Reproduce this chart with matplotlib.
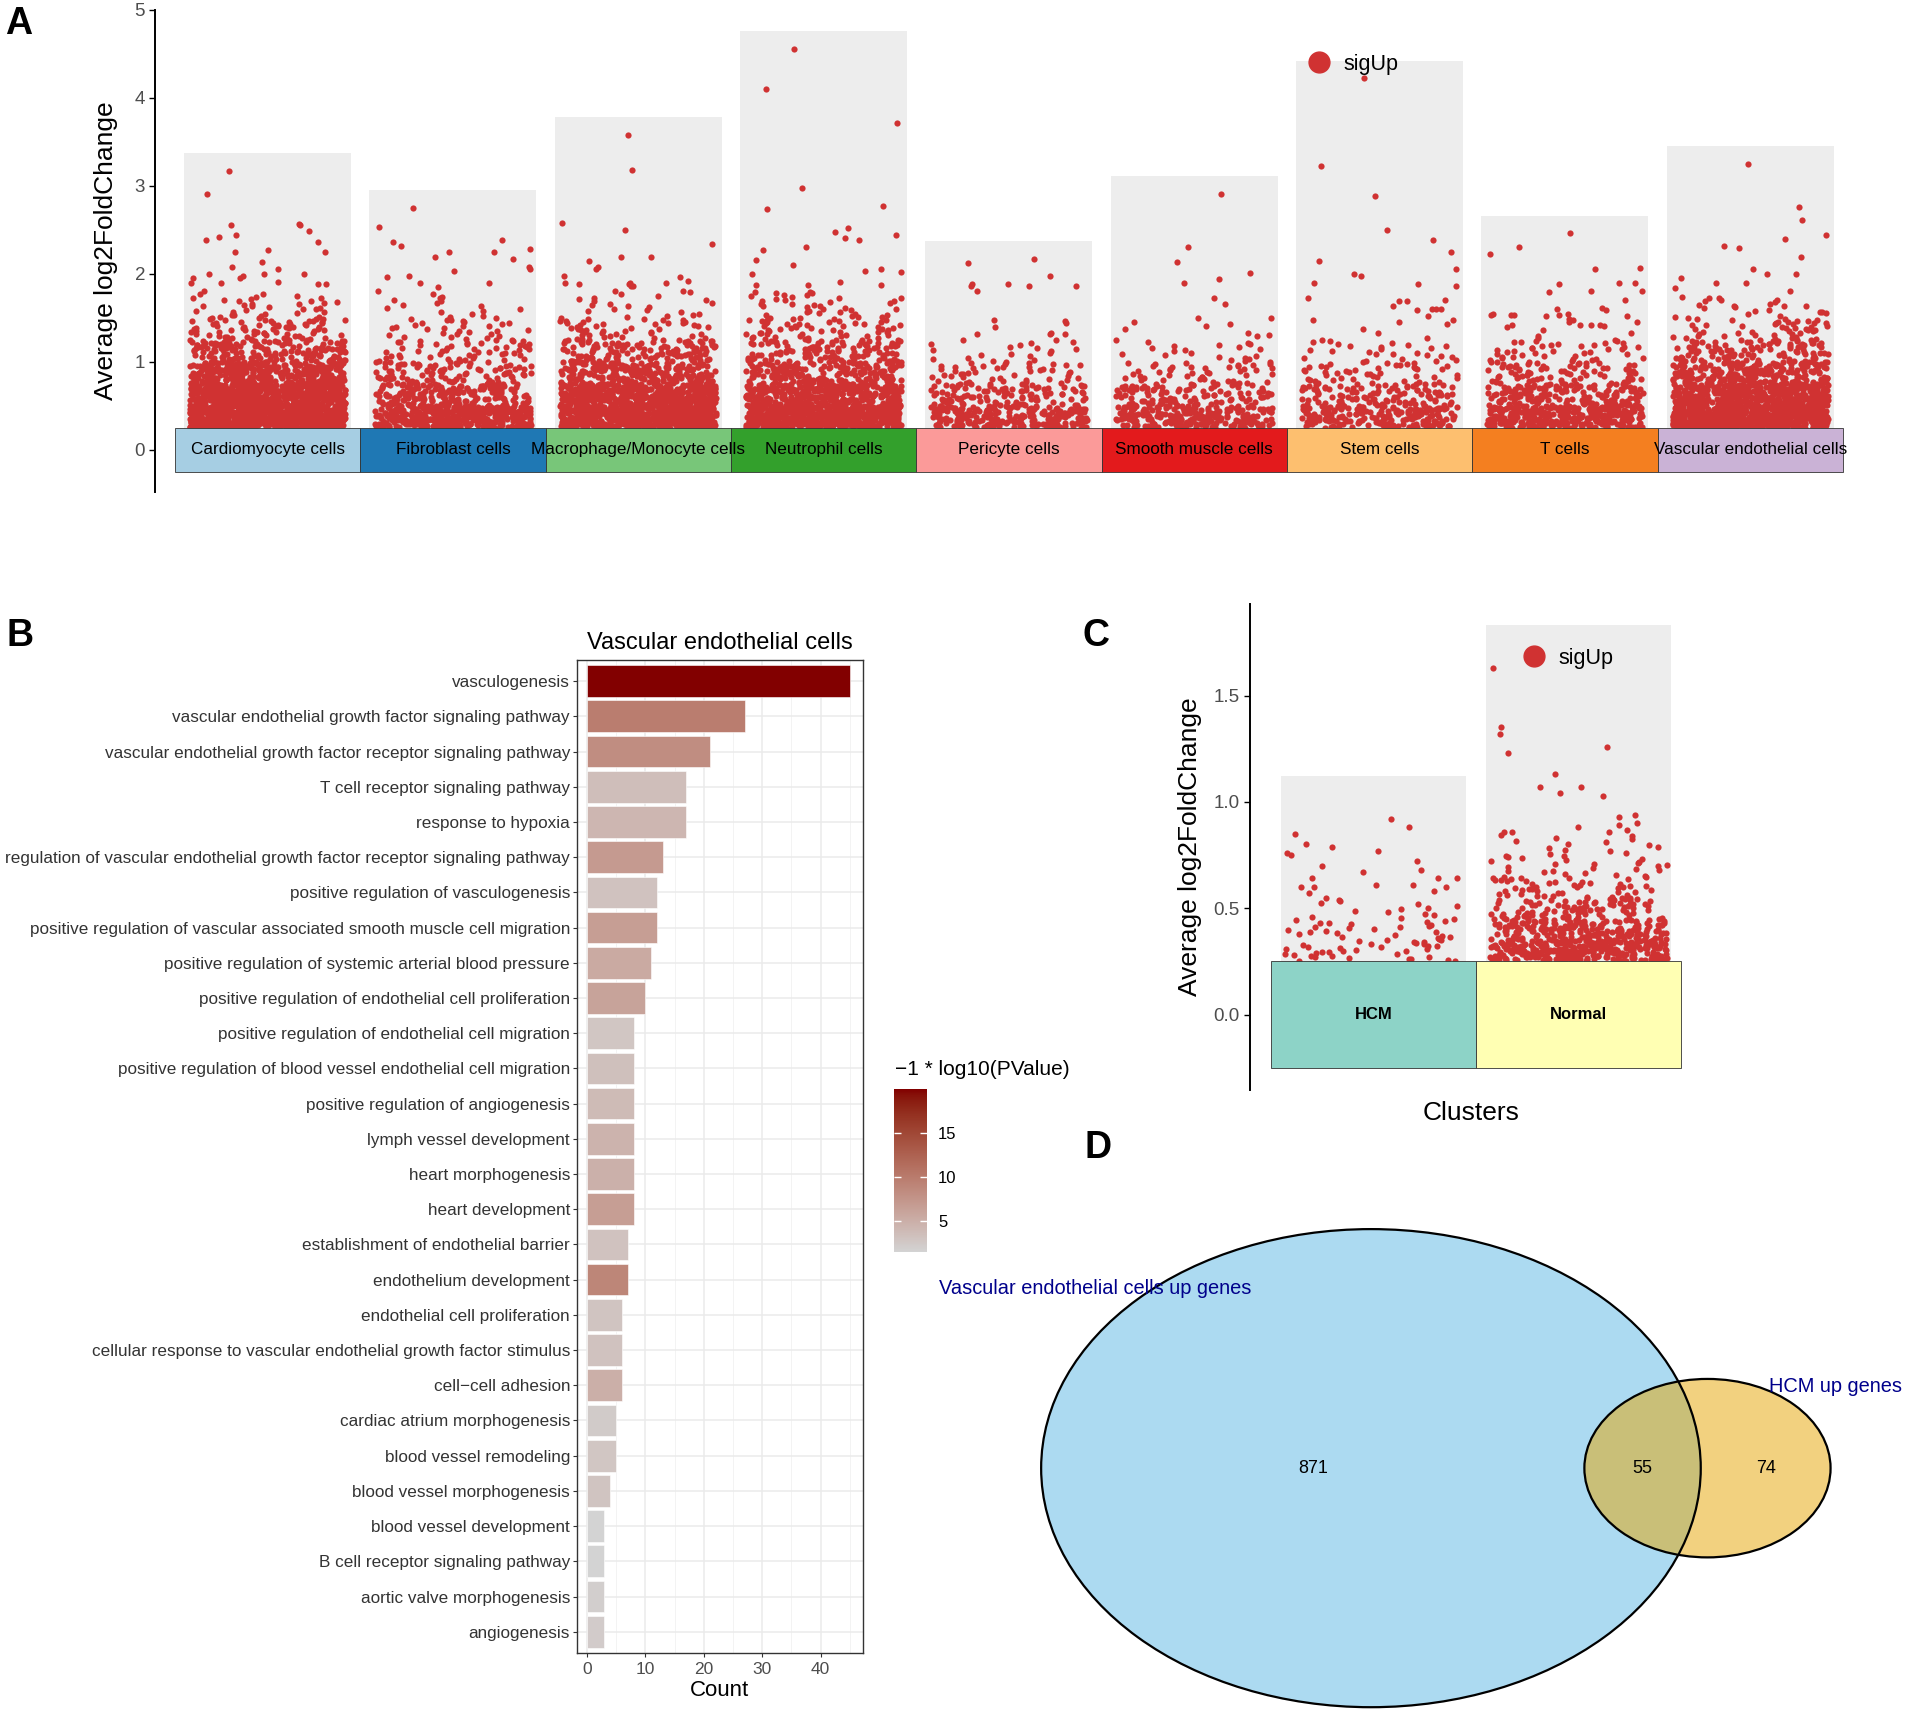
"""
Multi-panel figure: cluster up-gene scatter (A), GO enrichment bars (B),
HCM vs Normal scatter (C) and Venn overlap (D).
"""

import numpy as np
import matplotlib
matplotlib.use('Agg')
import matplotlib.pyplot as plt
from matplotlib.patches import Ellipse
from matplotlib.lines import Line2D
from matplotlib.colors import ListedColormap, Normalize, to_rgb
from matplotlib.cm import ScalarMappable
from matplotlib.ticker import MultipleLocator

plt.rcParams['font.family'] = ['Liberation Sans', 'DejaVu Sans']

# ---------------- Panel A data ----------------
a_clusters = ['Cardiomyocyte cells', 'Fibroblast cells', 'Macrophage/Monocyte cells',
              'Neutrophil cells', 'Pericyte cells', 'Smooth muscle cells', 'Stem cells',
              'T cells', 'Vascular endothelial cells']
a_tile_colors = ['#A6CEE3', '#1F78B4', '#78C679', '#33A02C', '#FB9A99',
                 '#E31A1C', '#FDBF6F', '#F47F20', '#CAB2D6']
# point counts per log2FC band (estimated from point density)
a_bin_edges = [0.25, 0.5, 0.75, 1.0, 1.25, 1.5, 1.75]
a_bin_counts = [
    [700, 550, 320, 150, 70, 30],   # Cardiomyocyte
    [400, 180, 90, 50, 30, 14],     # Fibroblast
    [650, 450, 220, 120, 45, 18],   # Macrophage/Monocyte
    [550, 350, 180, 110, 55, 30],   # Neutrophil
    [220, 100, 45, 18, 2, 0],       # Pericyte
    [220, 100, 45, 20, 3, 0],       # Smooth muscle
    [200, 100, 45, 25, 5, 0],       # Stem
    [320, 160, 75, 40, 8, 0],       # T
    [650, 420, 200, 100, 45, 15],   # Vascular endothelial
]
# individually readable genes in the sparse upper part
a_high_points = [
    [3.17, 2.91, 2.57, 2.55, 2.55, 2.49, 2.44, 2.42, 2.38, 2.36, 2.27, 2.25, 2.25, 2.13, 2.08,
     2.06, 2.00, 2.00, 2.00, 1.97, 1.95, 1.95, 1.91, 1.90, 1.90, 1.89, 1.89, 1.80, 1.77, 1.77],
    [2.75, 2.53, 2.38, 2.36, 2.32, 2.28, 2.25, 2.25, 2.19, 2.17, 2.08, 2.05, 2.03, 1.97, 1.96,
     1.90, 1.90, 1.85, 1.80, 1.77],
    [3.58, 3.18, 2.58, 2.50, 2.34, 2.19, 2.19, 2.15, 2.08, 2.06, 1.97, 1.96, 1.92, 1.90, 1.90,
     1.90, 1.88, 1.88, 1.86, 1.86, 1.80, 1.80, 1.79, 1.77],
    [4.56, 4.10, 3.71, 2.98, 2.77, 2.74, 2.52, 2.47, 2.44, 2.41, 2.38, 2.31, 2.27, 2.16, 2.10,
     2.05, 2.03, 2.02, 2.00, 1.91, 1.87, 1.87, 1.87, 1.79, 1.79, 1.78, 1.78, 1.76, 1.76],
    [2.17, 2.12, 1.97, 1.89, 1.89, 1.86, 1.86, 1.86, 1.80, 1.48, 1.47, 1.40, 1.33, 1.32, 1.32,
     1.25],
    [2.91, 2.31, 2.13, 2.01, 1.94, 1.90, 1.72, 1.66, 1.50, 1.50, 1.43, 1.41, 1.33, 1.31],
    [4.22, 3.22, 2.89, 2.50, 2.38, 2.25, 2.15, 2.05, 2.00, 1.98, 1.90, 1.89, 1.86, 1.73, 1.70,
     1.69, 1.69, 1.64, 1.60, 1.60, 1.60, 1.59, 1.52, 1.48, 1.45],
    [2.46, 2.31, 2.22, 2.07, 2.05, 1.90, 1.90, 1.89, 1.80, 1.80, 1.79, 1.70, 1.61, 1.60, 1.59,
     1.53, 1.53, 1.52, 1.54, 1.53, 1.52, 1.53, 1.54, 1.48, 1.45, 1.42, 1.42, 1.41, 1.42],
    [3.25, 2.76, 2.61, 2.44, 2.40, 2.32, 2.29, 2.19, 2.06, 2.00, 2.00, 1.95, 1.90, 1.90, 1.84,
     1.80, 1.73, 1.70, 1.64, 1.64, 1.64, 1.57, 1.57],
]

# ---------------- Panel B data ----------------
go_terms = ['vasculogenesis',
            'vascular endothelial growth factor signaling pathway',
            'vascular endothelial growth factor receptor signaling pathway',
            'T cell receptor signaling pathway',
            'response to hypoxia',
            'regulation of vascular endothelial growth factor receptor signaling pathway',
            'positive regulation of vasculogenesis',
            'positive regulation of vascular associated smooth muscle cell migration',
            'positive regulation of systemic arterial blood pressure',
            'positive regulation of endothelial cell proliferation',
            'positive regulation of endothelial cell migration',
            'positive regulation of blood vessel endothelial cell migration',
            'positive regulation of angiogenesis',
            'lymph vessel development',
            'heart morphogenesis',
            'heart development',
            'establishment of endothelial barrier',
            'endothelium development',
            'endothelial cell proliferation',
            'cellular response to vascular endothelial growth factor stimulus',
            'cell\u2212cell adhesion',
            'cardiac atrium morphogenesis',
            'blood vessel remodeling',
            'blood vessel morphogenesis',
            'blood vessel development',
            'B cell receptor signaling pathway',
            'aortic valve morphogenesis',
            'angiogenesis']
go_counts = [45, 27, 21, 17, 17, 13, 12, 12, 11, 10, 8, 8, 8, 8, 8, 8, 7, 7, 6, 6, 6,
             5, 5, 4, 3, 3, 3, 3]
go_neglogp = [19.95, 9.8, 8.3, 3.6, 4.3, 7.0, 3.2, 6.6, 5.5, 6.2, 2.8, 3.4, 3.9, 4.6,
              4.9, 6.6, 3.2, 9.0, 3.0, 3.2, 5.0, 2.4, 2.8, 3.0, 1.6, 1.55, 2.0, 2.3]

# ---------------- Panel C data ----------------
c_clusters = ['HCM', 'Normal']
c_tile_colors = ['#8DD3C7', '#FFFFB3']
c_bin_edges = [[0.25, 0.35, 0.45, 0.55],
               [0.25, 0.35, 0.45, 0.55, 0.65, 0.75, 0.85]]
c_bin_counts = [[34, 26, 14],
                [300, 180, 85, 45, 24, 14]]
c_high_points = [
    [0.92, 0.88, 0.85, 0.80, 0.79, 0.77, 0.76, 0.75, 0.72, 0.70, 0.68, 0.67, 0.64, 0.64,
     0.64, 0.61, 0.61, 0.60, 0.60, 0.60, 0.58, 0.57],
    [1.63, 1.35, 1.32, 1.26, 1.23, 1.13, 1.07, 1.07, 1.04, 1.03, 0.94, 0.93, 0.90, 0.89,
     0.88, 0.87, 0.86, 0.86, 0.86],
]

# ---------------- Panel D data ----------------
venn_names = ['Vascular endothelial cells up genes', 'HCM up genes']
venn_only_a, venn_both, venn_only_b = 871, 55, 74

POINT_COLOR = '#D03232'
BAR_GREY = '#EDEDED'
TICK_GREY = '#4D4D4D'


def spread(i, k):
    """Deterministic hash in [0, 1) used for horizontal jitter."""
    return np.modf(np.abs(np.sin(i * 12.9898 + k * 78.233 + 0.5) * 43758.5453))[0]


def cloud(center, half_width, edges, counts, high_vals, k, hi_seed):
    """Jittered strip of points: banded counts plus explicit high values."""
    xs, ys = [], []
    start = 0
    for lo, hi, n in zip(edges[:-1], edges[1:], counts):
        j = np.arange(n)
        u = spread(j + start, k)
        xs.append(center + half_width * (2 * u - 1))
        ys.append(lo + (hi - lo) * (j + 0.5) / max(n, 1))
        start += n
    hv = np.asarray(high_vals, float)
    j = np.arange(len(hv)) + 5000
    u = spread(j, k + hi_seed)
    xs.append(center + half_width * (2 * u - 1))
    ys.append(hv)
    return np.concatenate(xs), np.concatenate(ys)


def lab_gradient(low, high, n=256):
    """ggplot-like gradient interpolated in CIE Lab."""
    M = np.array([[0.4124, 0.3576, 0.1805],
                  [0.2126, 0.7152, 0.0722],
                  [0.0193, 0.1192, 0.9505]])
    wp = np.array([0.95047, 1.0, 1.08883])
    d = 6 / 29

    def to_lab(c):
        c = np.asarray(to_rgb(c))
        lin = np.where(c <= 0.04045, c / 12.92, ((c + 0.055) / 1.055) ** 2.4)
        t = (M @ lin) / wp
        f = np.where(t > d ** 3, np.cbrt(t), t / (3 * d ** 2) + 4 / 29)
        return np.array([116 * f[1] - 16, 500 * (f[0] - f[1]), 200 * (f[1] - f[2])])

    def to_rgb_(lab):
        L, a, b = lab
        fy = (L + 16) / 116
        f = np.array([fy + a / 500, fy, fy - b / 200])
        t = np.where(f > d, f ** 3, 3 * d ** 2 * (f - 4 / 29))
        lin = np.clip(np.linalg.solve(M, t * wp), 0, 1)
        c = np.where(lin <= 0.0031308, 12.92 * lin, 1.055 * lin ** (1 / 2.4) - 0.055)
        return np.clip(c, 0, 1)

    l0, l1 = to_lab(low), to_lab(high)
    cols = [to_rgb_(l0 + (l1 - l0) * t) for t in np.linspace(0, 1, n)]
    return ListedColormap(cols)


def lens_area(r1, r2, d):
    a1 = r1 ** 2 * np.arccos((d ** 2 + r1 ** 2 - r2 ** 2) / (2 * d * r1))
    a2 = r2 ** 2 * np.arccos((d ** 2 + r2 ** 2 - r1 ** 2) / (2 * d * r2))
    a3 = 0.5 * np.sqrt((-d + r1 + r2) * (d + r1 - r2) * (d - r1 + r2) * (d + r1 + r2))
    return a1 + a2 - a3


def strip_panel(ax, names, tile_colors, edges_list, counts_list, highs_list, half_width,
                tile_fs, tile_weight, hi_seed):
    n = len(names)
    pos = np.arange(1, n + 1)
    tops = [max(h) + 0.2 for h in highs_list]
    ax.bar(pos, tops, width=0.9, color=BAR_GREY, zorder=1)
    for k in range(n):
        x, y = cloud(pos[k], half_width, edges_list[k], counts_list[k], highs_list[k],
                     k, hi_seed)
        ax.scatter(x, y, s=20, color=POINT_COLOR, linewidths=0, zorder=2)
    ax.bar(pos, 0.5, bottom=-0.25, width=1.0, color=tile_colors,
           edgecolor='#333333', linewidth=0.6, zorder=3)
    for k in range(n):
        ax.text(pos[k], 0, names[k], ha='center', va='center', fontsize=tile_fs,
                fontweight=tile_weight, zorder=4)
    for s in ['top', 'right', 'bottom']:
        ax.spines[s].set_visible(False)
    ax.spines['left'].set_linewidth(1.4)
    ax.set_xticks([])
    ax.tick_params(axis='y', labelsize=13.5, labelcolor=TICK_GREY, length=4, width=1)


def main():
    fig = plt.figure(figsize=(19.05, 17.16), dpi=100)
    fig.patch.set_facecolor('white')

    # === (A) cluster strip plot ===
    axA = fig.add_axes([0.0816, 0.7132, 0.8955, 0.2811])
    strip_panel(axA, a_clusters, a_tile_colors, [a_bin_edges] * len(a_clusters),
                a_bin_counts, a_high_points, 0.42, 12.3, 'normal', 0.37)
    axA.set_xlim(0.395, 9.6)
    axA.set_ylim(-0.48, 5.0)
    axA.set_yticks([0, 1, 2, 3, 4, 5])
    axA.set_ylabel('Average log2FoldChange', fontsize=19, labelpad=12)
    axA.legend(handles=[Line2D([], [], marker='o', ls='', color=POINT_COLOR, ms=15)],
               labels=['sigUp'], loc='center left', bbox_to_anchor=(0.676, 0.887),
               frameon=False, fontsize=15.5, handlelength=1.0, handletextpad=0.6,
               borderpad=0, borderaxespad=0)

    # === (B) GO enrichment bars ===
    axB = fig.add_axes([0.3029, 0.0368, 0.1499, 0.5786])
    cmap = lab_gradient('#D3D3D3', '#820000')
    norm = Normalize(vmin=min(go_neglogp), vmax=max(go_neglogp))
    ypos = np.arange(len(go_terms))
    axB.barh(ypos, go_counts, height=0.9, color=cmap(norm(go_neglogp)),
             edgecolor='white', linewidth=0.4, zorder=2)
    axB.set_axisbelow(True)
    axB.set_xlim(-1.7, 47.2)
    axB.set_ylim(len(go_terms) - 0.4, -0.6)
    axB.set_yticks(ypos)
    axB.set_yticklabels(go_terms)
    axB.set_xticks([0, 10, 20, 30, 40])
    axB.xaxis.set_minor_locator(MultipleLocator(5))
    axB.grid(which='major', color='#EBEBEB', linewidth=1.1)
    axB.grid(which='minor', axis='x', color='#F3F3F3', linewidth=0.7)
    axB.tick_params(axis='x', which='minor', length=0)
    axB.tick_params(axis='y', labelsize=12.3, labelcolor='#333333', length=3,
                    color='#333333', pad=2)
    axB.tick_params(axis='x', labelsize=12.5, labelcolor=TICK_GREY, length=3, color='#333333')
    for s in axB.spines.values():
        s.set_color('#333333')
        s.set_linewidth(1.0)
    axB.set_xlabel('Count', fontsize=16, labelpad=2)
    axB.set_title('Vascular endothelial cells', fontsize=17, pad=8)

    cax = fig.add_axes([0.4694, 0.2705, 0.0172, 0.0949])
    cb = fig.colorbar(ScalarMappable(norm=norm, cmap=cmap), cax=cax)
    cb.set_ticks([5, 10, 15])
    cb.outline.set_visible(False)
    cax.tick_params(direction='in', length=5, width=1, color='white', labelsize=12,
                    left=True, right=True, pad=8)
    fig.text(0.4700, 1 - 880 / 1412, '\u22121 * log10(PValue)', fontsize=15,
             ha='left', va='center')

    # === (C) HCM vs Normal strip plot ===
    axC = fig.add_axes([0.6563, 0.3647, 0.2315, 0.2833])
    strip_panel(axC, c_clusters, c_tile_colors, c_bin_edges, c_bin_counts,
                c_high_points, 0.43, 12, 'bold', 0.61)
    axC.set_xlim(0.399, 2.55)
    axC.set_ylim(-0.355, 1.93)
    axC.set_yticks([0.0, 0.5, 1.0, 1.5])
    axC.set_yticklabels(['0.0', '0.5', '1.0', '1.5'])
    axC.set_ylabel('Average log2FoldChange', fontsize=19, labelpad=8)
    axC.set_xlabel('Clusters', fontsize=19, labelpad=8)
    axC.legend(handles=[Line2D([], [], marker='o', ls='', color=POINT_COLOR, ms=15)],
               labels=['sigUp'], loc='center left', bbox_to_anchor=(0.62, 0.888),
               frameon=False, fontsize=15.5, handlelength=1.0, handletextpad=0.6,
               borderpad=0, borderaxespad=0)

    # === (D) Venn diagram, area proportional ===
    axD = fig.add_axes([0.4847, 0.0, 0.5153, 0.3343])
    size_a = venn_only_a + venn_both
    size_b = venn_only_b + venn_both
    r1 = np.sqrt(size_a / np.pi)
    r2 = np.sqrt(size_b / np.pi)
    lo, hi = r1 - r2 + 1e-6, r1 + r2 - 1e-6
    for _ in range(80):
        mid = 0.5 * (lo + hi)
        if lens_area(r1, r2, mid) > venn_both:
            lo = mid
        else:
            hi = mid
    d = 0.5 * (lo + hi)
    axD.add_patch(Ellipse((0, 0), 2 * r1, 2 * r1, facecolor='#5BB7E5', alpha=0.5, lw=0))
    axD.add_patch(Ellipse((d, 0), 2 * r2, 2 * r2, facecolor='#E7A500', alpha=0.5, lw=0))
    axD.add_patch(Ellipse((0, 0), 2 * r1, 2 * r1, fill=False, edgecolor='black', lw=1.6))
    axD.add_patch(Ellipse((d, 0), 2 * r2, 2 * r2, fill=False, edgecolor='black', lw=1.6))
    axD.text((-r1 + d - r2) / 2, 0, str(venn_only_a), ha='center', va='center', fontsize=13)
    axD.text((d - r2 + r1) / 2, 0, str(venn_both), ha='center', va='center', fontsize=13)
    axD.text((r1 + d + r2) / 2, 0, str(venn_only_b), ha='center', va='center', fontsize=13)
    axD.text(-22.5, 12.9, venn_names[0], color='#00008B', fontsize=14.4,
             ha='left', va='center')
    axD.text(20.7, 5.85, venn_names[1], color='#00008B', fontsize=14.4,
             ha='left', va='center', clip_on=False)
    axD.set_xlim(-23.3, 27.8)
    axD.set_ylim(-17.8, 23.4)
    axD.axis('off')

    # panel letters
    for letter, x, y in [('A', 4, 20), ('B', 5, 523), ('C', 891, 523), ('D', 893, 945)]:
        fig.text(x / 1568, 1 - y / 1412, letter, fontsize=27, fontweight='bold',
                 ha='left', va='center')

    fig.savefig('out.png', dpi=100)
    plt.close(fig)


if __name__ == '__main__':
    main()
